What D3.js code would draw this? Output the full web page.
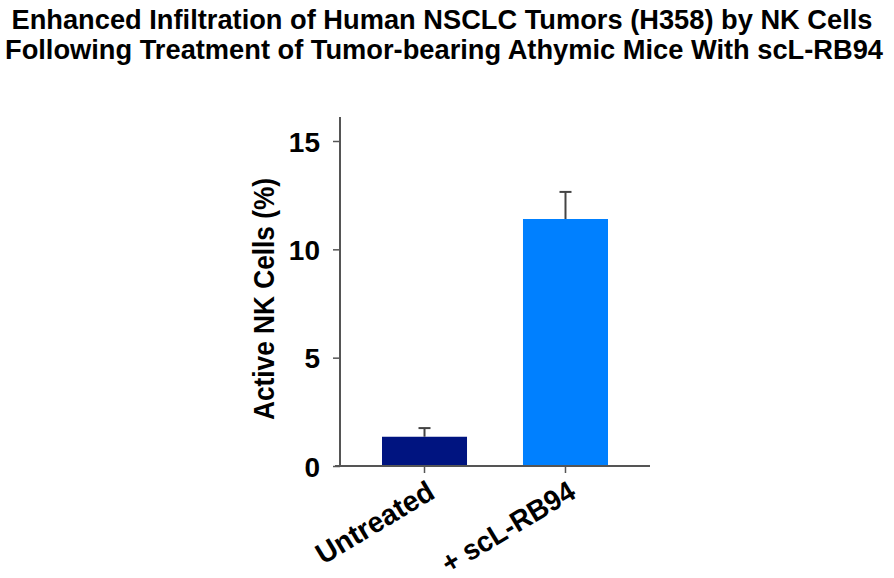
<!DOCTYPE html>
<html><head><meta charset="utf-8">
<script src="https://cdn.jsdelivr.net/npm/d3@7"></script>
<style>body{margin:0;background:#fff}svg{display:block}</style>
</head><body>
<script>
const titleLines = ["Enhanced Infiltration of Human NSCLC Tumors (H358) by NK Cells",
                    "Following Treatment of Tumor-bearing Athymic Mice With scL-RB94"];
const categories = ["Untreated", "+ scL-RB94"];
const values = [1.35, 11.4];
const errors = [0.4, 1.25];
const barColors = ["#001480", "#0080ff"];
const yTicks = [0, 5, 10, 15];
const yLabel = "Active NK Cells (%)";
const xLabelLengths = [132, 150];

const W = 894, H = 578;
const svg = d3.select("body").append("svg").attr("width", W).attr("height", H);
const font = "'Liberation Sans', Arial, sans-serif";

// title
svg.append("text").attr("x", 442).attr("y", 29).attr("text-anchor", "middle")
  .attr("font-family", font).attr("font-weight", "bold").attr("font-size", 27)
  .attr("textLength", 861).attr("lengthAdjust", "spacingAndGlyphs").text(titleLines[0]);
svg.append("text").attr("x", 444).attr("y", 59).attr("text-anchor", "middle")
  .attr("font-family", font).attr("font-weight", "bold").attr("font-size", 27)
  .attr("textLength", 878).attr("lengthAdjust", "spacingAndGlyphs").text(titleLines[1]);

const y = d3.scaleLinear().domain([0, 15]).range([466, 141]);
const x = d3.scaleBand().domain(categories).range([382, 608]).paddingInner(0.397).paddingOuter(0);

const axisColor = "#555";
// bars
svg.selectAll("rect.bar").data(categories).enter().append("rect")
  .attr("x", d => x(d)).attr("width", x.bandwidth())
  .attr("y", (d, i) => y(values[i])).attr("height", (d, i) => y(0) - y(values[i]))
  .attr("fill", (d, i) => barColors[i]);

// error bars
categories.forEach((c, i) => {
  const cx = x(c) + x.bandwidth() / 2;
  svg.append("line").attr("x1", cx).attr("x2", cx)
    .attr("y1", y(values[i])).attr("y2", y(values[i] + errors[i]))
    .attr("stroke", "#444").attr("stroke-width", 2);
  svg.append("line").attr("x1", cx - 6).attr("x2", cx + 6)
    .attr("y1", y(values[i] + errors[i])).attr("y2", y(values[i] + errors[i]))
    .attr("stroke", "#444").attr("stroke-width", 2);
});

// y axis
const yAxis = svg.append("g").attr("transform", "translate(340,0)")
  .call(d3.axisLeft(y).tickValues(yTicks).tickSize(7).tickPadding(13));
yAxis.select(".domain").remove();
yAxis.append("line").attr("x1", 0).attr("x2", 0).attr("y1", 117).attr("y2", 466)
  .attr("stroke", axisColor).attr("stroke-width", 2);
yAxis.selectAll(".tick line").attr("stroke", axisColor).attr("stroke-width", 1.5);
yAxis.selectAll(".tick text").attr("font-family", font).attr("font-weight", "bold")
  .attr("font-size", 28).attr("fill", "#000").attr("dy", "0.36em");

// x axis
const xAxis = svg.append("g").attr("transform", "translate(0,466)")
  .call(d3.axisBottom(x).tickSize(7).tickFormat(""));
xAxis.select(".domain").remove();
xAxis.append("line").attr("x1", 335).attr("x2", 650).attr("y1", 0).attr("y2", 0)
  .attr("stroke", axisColor).attr("stroke-width", 2);
xAxis.selectAll(".tick line").attr("stroke", axisColor).attr("stroke-width", 1.5);

// x labels rotated
svg.selectAll("text.xl").data(categories).enter().append("text")
  .attr("text-anchor", "end").attr("font-family", font).attr("font-weight", "bold")
  .attr("font-size", 29)
  .attr("textLength", (d, i) => xLabelLengths[i]).attr("lengthAdjust", "spacingAndGlyphs")
  .attr("transform", d => `translate(${x(d) + x.bandwidth() / 2 + 12},${497}) rotate(-31)`)
  .text(d => d);

// y label
svg.append("text").attr("transform", "translate(274,299) rotate(-90)")
  .attr("text-anchor", "middle").attr("font-family", font).attr("font-weight", "bold")
  .attr("font-size", 30).attr("textLength", 242).attr("lengthAdjust", "spacingAndGlyphs")
  .text(yLabel);
</script>
</body></html>
